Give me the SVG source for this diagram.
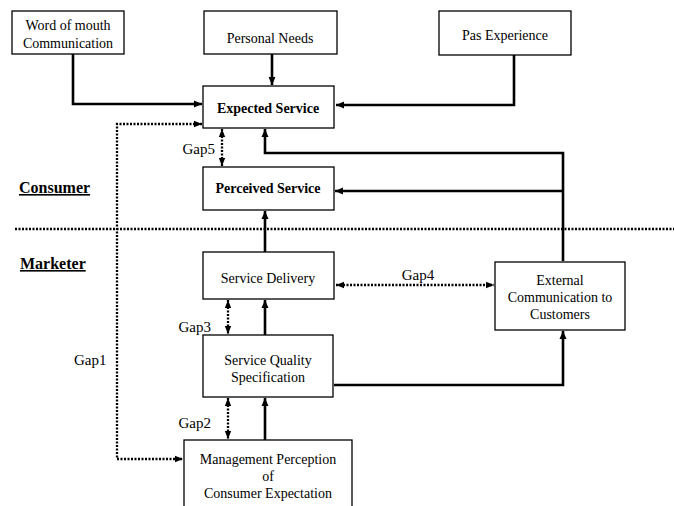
<svg xmlns="http://www.w3.org/2000/svg" width="674" height="506" viewBox="0 0 674 506">
<style>
.box{fill:#fff;stroke:#000;stroke-width:1.3}
text{font-family:'Liberation Serif','Times New Roman',Times,'DejaVu Serif',serif;fill:#000}
.t{font-size:14px;text-anchor:middle}
.b{font-weight:bold}
.lbl{font-size:15px}
.side{font-size:16px;font-weight:bold;text-decoration:underline}
.s{fill:none;stroke:#000;stroke-width:2.6}
.d{fill:none;stroke:#000;stroke-width:2.3;stroke-dasharray:2 1.5}
</style>
<defs>
<marker id="a" markerUnits="userSpaceOnUse" markerWidth="9" markerHeight="8" refX="8" refY="4" orient="auto-start-reverse">
<path d="M0,0.5 L8,4 L0,7.5 z" fill="#000"/>
</marker>
<marker id="ad" markerUnits="userSpaceOnUse" markerWidth="9" markerHeight="8" refX="8" refY="4" orient="auto-start-reverse">
<path d="M0,0.8 L8,4 L0,7.2 z" fill="#000"/>
</marker>
</defs>
<g id="connectors">
<path class="d" d="M15 229 H674"/>
<path class="s" d="M73 54 V104 H202" marker-end="url(#a)"/>
<path class="s" d="M272 54 V85" marker-end="url(#a)"/>
<path class="s" d="M514 55 V105 H336" marker-end="url(#a)"/>
<path class="s" d="M563 261 V153 H265 V129" marker-end="url(#a)"/>
<path class="s" d="M563 191 H335" marker-end="url(#a)"/>
<path class="s" d="M265 252 V211" marker-end="url(#a)"/>
<path class="s" d="M265 335 V300" marker-end="url(#a)"/>
<path class="s" d="M265 440 V398" marker-end="url(#a)"/>
<path class="s" d="M334 385 H563 V331" marker-end="url(#a)"/>
<path class="d" d="M202 124 H117 V459 H183" marker-start="url(#ad)" marker-end="url(#ad)"/>
<path class="d" d="M222 129 V166" marker-start="url(#ad)" marker-end="url(#ad)"/>
<path class="d" d="M228 300 V334" marker-start="url(#ad)" marker-end="url(#ad)"/>
<path class="d" d="M228 398 V439" marker-start="url(#ad)" marker-end="url(#ad)"/>
<path class="d" d="M336 285 H494" marker-start="url(#ad)" marker-end="url(#ad)"/>
</g>
<g id="word-of-mouth">
<rect class="box" x="12" y="11" width="112" height="43"/>
<text class="t" x="68" y="30">Word of mouth</text>
<text class="t" x="68" y="48">Communication</text>
</g>
<g id="personal-needs">
<rect class="box" x="204" y="11" width="133" height="43"/>
<text class="t" x="270" y="43">Personal Needs</text>
</g>
<g id="pas-experience">
<rect class="box" x="439" y="11" width="132" height="44"/>
<text class="t" x="505" y="40">Pas Experience</text>
</g>
<g id="expected-service">
<rect class="box" x="203" y="86" width="131" height="42"/>
<text class="t b" x="268" y="113">Expected Service</text>
</g>
<g id="perceived-service">
<rect class="box" x="203" y="167" width="131" height="43"/>
<text class="t b" x="268" y="193">Perceived Service</text>
</g>
<g id="service-delivery">
<rect class="box" x="203" y="252" width="131" height="47"/>
<text class="t" x="268" y="283">Service Delivery</text>
</g>
<g id="service-quality">
<rect class="box" x="203" y="335" width="130" height="62"/>
<text class="t" x="268" y="365">Service Quality</text>
<text class="t" x="268" y="382">Specification</text>
</g>
<g id="management-perception">
<rect class="box" x="184" y="440" width="168" height="80"/>
<text class="t" x="268" y="464">Management Perception</text>
<text class="t" x="268" y="481">of</text>
<text class="t" x="268" y="498">Consumer Expectation</text>
</g>
<g id="external-communication">
<rect class="box" x="495" y="262" width="130" height="68"/>
<text class="t" x="560" y="285">External</text>
<text class="t" x="560" y="302">Communication to</text>
<text class="t" x="560" y="319">Customers</text>
</g>
<g id="labels">
<text class="side" x="19" y="193">Consumer</text>
<text class="side" x="20" y="269">Marketer</text>
<text class="lbl" x="215" y="154" text-anchor="end">Gap5</text>
<text class="lbl" x="211" y="332" text-anchor="end">Gap3</text>
<text class="lbl" x="211" y="428" text-anchor="end">Gap2</text>
<text class="lbl" x="74" y="365">Gap1</text>
<text class="lbl" x="418" y="280" text-anchor="middle">Gap4</text>
</g>
</svg>
